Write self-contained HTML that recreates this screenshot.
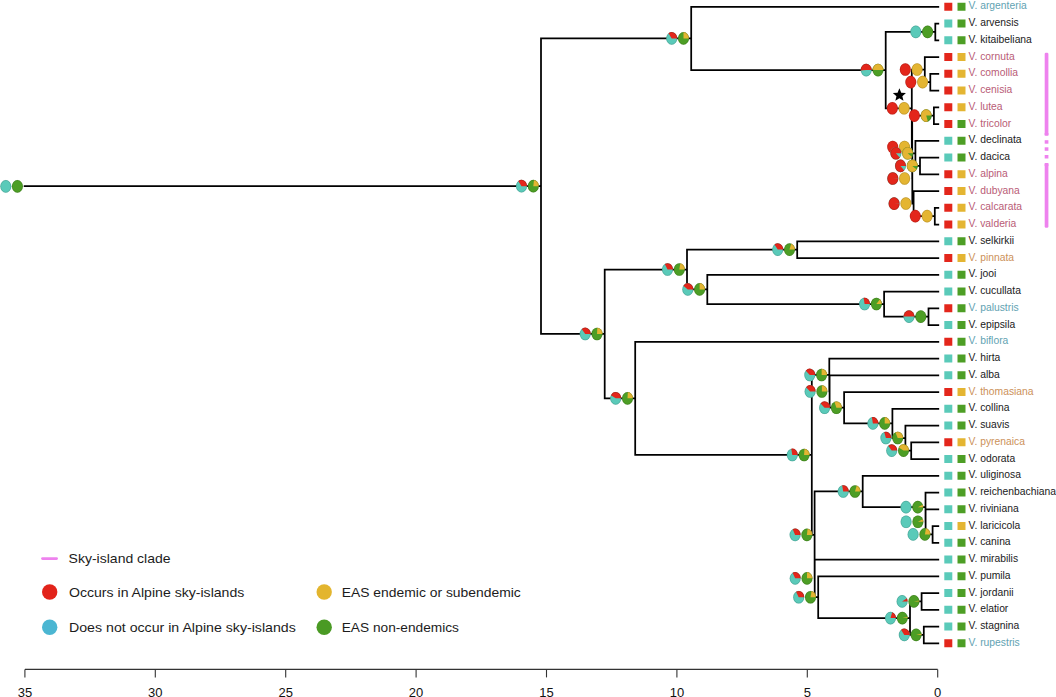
<!DOCTYPE html>
<html><head><meta charset="utf-8"><style>
html,body{margin:0;padding:0;background:#fff;}
body{width:1056px;height:697px;overflow:hidden;}
svg{display:block;}
text{font-family:"Liberation Sans",sans-serif;}
</style></head><body>
<svg width="1056" height="697" viewBox="0 0 1056 697">
<path d="M24.60 186.17L541.00 186.17M541.00 38.42L541.00 333.93M541.00 38.42L691.20 38.42M541.00 333.93L604.70 333.93M691.20 6.75L691.20 70.09M691.20 6.75L938.30 6.75M691.20 70.09L885.70 70.09M885.70 31.88L885.70 108.30M885.70 31.88L935.30 31.88M885.70 108.30L911.80 108.30M935.30 23.50L935.30 40.25M935.30 23.50L938.30 23.50M935.30 40.25L938.30 40.25M911.80 69.56L911.80 147.03M911.80 69.56L924.80 69.56M911.80 147.03L912.20 147.03M924.80 57.00L924.80 82.12M924.80 57.00L938.30 57.00M924.80 82.12L930.30 82.12M930.30 73.75L930.30 90.50M930.30 73.75L938.30 73.75M930.30 90.50L938.30 90.50M912.20 115.62L912.20 178.44M912.20 115.62L933.90 115.62M912.20 178.44L912.30 178.44M933.90 107.25L933.90 124.00M933.90 107.25L938.30 107.25M933.90 124.00L938.30 124.00M912.30 153.31L912.30 203.56M912.30 153.31L915.40 153.31M912.30 203.56L913.60 203.56M915.40 140.75L915.40 165.88M915.40 140.75L938.30 140.75M915.40 165.88L920.00 165.88M920.00 157.50L920.00 174.25M920.00 157.50L938.30 157.50M920.00 174.25L938.30 174.25M913.60 191.00L913.60 216.12M913.60 191.00L938.30 191.00M913.60 216.12L934.80 216.12M934.80 207.75L934.80 224.50M934.80 207.75L938.30 207.75M934.80 224.50L938.30 224.50M604.70 269.52L604.70 398.35M604.70 269.52L687.00 269.52M604.70 398.35L635.20 398.35M687.00 249.62L687.00 289.41M687.00 249.62L797.20 249.62M687.00 289.41L707.30 289.41M797.20 241.25L797.20 258.00M797.20 241.25L938.30 241.25M797.20 258.00L938.30 258.00M707.30 274.75L707.30 304.06M707.30 274.75L938.30 274.75M707.30 304.06L884.10 304.06M884.10 291.50L884.10 316.62M884.10 291.50L938.30 291.50M884.10 316.62L928.50 316.62M928.50 308.25L928.50 325.00M928.50 308.25L938.30 308.25M928.50 325.00L938.30 325.00M635.20 341.75L635.20 454.94M635.20 341.75L938.30 341.75M635.20 454.94L811.80 454.94M811.80 374.99L811.80 534.90M811.80 374.99L829.30 374.99M811.80 534.90L814.60 534.90M829.30 358.50L829.30 391.48M829.30 358.50L938.30 358.50M829.30 391.48L829.60 391.48M829.60 375.25L829.60 407.70M829.60 375.25L938.30 375.25M829.60 407.70L844.10 407.70M844.10 392.00L844.10 423.41M844.10 392.00L938.30 392.00M844.10 423.41L892.40 423.41M892.40 408.75L892.40 438.06M892.40 408.75L938.30 408.75M892.40 438.06L905.40 438.06M905.40 425.50L905.40 450.62M905.40 425.50L938.30 425.50M905.40 450.62L911.20 450.62M911.20 442.25L911.20 459.00M911.20 442.25L938.30 442.25M911.20 459.00L938.30 459.00M814.60 491.45L814.60 578.34M814.60 491.45L862.70 491.45M814.60 578.34L814.70 578.34M862.70 475.75L862.70 507.16M862.70 475.75L938.30 475.75M862.70 507.16L925.50 507.16M925.50 492.50L925.50 521.81M925.50 492.50L938.30 492.50M925.50 521.81L925.60 521.81M925.60 509.25L925.60 534.38M925.60 509.25L938.30 509.25M925.60 534.38L932.60 534.38M932.60 526.00L932.60 542.75M932.60 526.00L938.30 526.00M932.60 542.75L938.30 542.75M814.70 559.50L814.70 597.19M814.70 559.50L938.30 559.50M814.70 597.19L818.20 597.19M818.20 576.25L818.20 618.12M818.20 576.25L938.30 576.25M818.20 618.12L910.00 618.12M910.00 601.38L910.00 634.88M910.00 601.38L921.60 601.38M910.00 634.88L923.80 634.88M921.60 593.00L921.60 609.75M921.60 593.00L938.30 593.00M921.60 609.75L938.30 609.75M923.80 626.50L923.80 643.25M923.80 626.50L938.30 626.50M923.80 643.25L938.30 643.25" stroke="#000" stroke-width="1.75" fill="none" stroke-linecap="square"/>
<ellipse cx="5.80" cy="186.37" rx="5.50" ry="6.30" fill="#5acab9"/><ellipse cx="5.80" cy="186.37" rx="5.20" ry="6.00" fill="none" stroke="#000" stroke-opacity="0.22" stroke-width="0.6"/>
<ellipse cx="17.40" cy="186.37" rx="5.50" ry="6.30" fill="#4d9e25"/><ellipse cx="17.40" cy="186.37" rx="5.20" ry="6.00" fill="none" stroke="#000" stroke-opacity="0.22" stroke-width="0.6"/>
<ellipse cx="521.50" cy="186.17" rx="5.50" ry="6.30" fill="#5acab9"/><path d="M521.50 186.17L527.00 186.17A5.50 6.30 0 0 0 518.27 181.08Z" fill="#e3261b"/><ellipse cx="521.50" cy="186.17" rx="5.20" ry="6.00" fill="none" stroke="#000" stroke-opacity="0.22" stroke-width="0.6"/>
<ellipse cx="533.30" cy="186.17" rx="5.50" ry="6.30" fill="#4d9e25"/><path d="M533.30 186.17L538.80 186.17A5.50 6.30 0 0 0 533.99 179.92Z" fill="#e4b532"/><ellipse cx="533.30" cy="186.17" rx="5.20" ry="6.00" fill="none" stroke="#000" stroke-opacity="0.22" stroke-width="0.6"/>
<ellipse cx="671.70" cy="38.42" rx="5.50" ry="6.30" fill="#5acab9"/><path d="M671.70 38.42L677.20 38.42A5.50 6.30 0 0 0 668.47 33.32Z" fill="#e3261b"/><ellipse cx="671.70" cy="38.42" rx="5.20" ry="6.00" fill="none" stroke="#000" stroke-opacity="0.22" stroke-width="0.6"/>
<ellipse cx="683.50" cy="38.42" rx="5.50" ry="6.30" fill="#4d9e25"/><path d="M683.50 38.42L689.00 38.42A5.50 6.30 0 0 0 683.50 32.12Z" fill="#e4b532"/><ellipse cx="683.50" cy="38.42" rx="5.20" ry="6.00" fill="none" stroke="#000" stroke-opacity="0.22" stroke-width="0.6"/>
<ellipse cx="866.20" cy="70.09" rx="5.50" ry="6.30" fill="#5acab9"/><path d="M866.20 70.09L871.70 70.09A5.50 6.30 0 1 0 860.71 70.48Z" fill="#e3261b"/><ellipse cx="866.20" cy="70.09" rx="5.20" ry="6.00" fill="none" stroke="#000" stroke-opacity="0.22" stroke-width="0.6"/>
<ellipse cx="878.00" cy="70.09" rx="5.50" ry="6.30" fill="#4d9e25"/><path d="M878.00 70.09L883.50 70.09A5.50 6.30 0 0 0 872.50 70.09Z" fill="#e4b532"/><ellipse cx="878.00" cy="70.09" rx="5.20" ry="6.00" fill="none" stroke="#000" stroke-opacity="0.22" stroke-width="0.6"/>
<ellipse cx="915.80" cy="31.88" rx="5.50" ry="6.30" fill="#5acab9"/><ellipse cx="915.80" cy="31.88" rx="5.20" ry="6.00" fill="none" stroke="#000" stroke-opacity="0.22" stroke-width="0.6"/>
<ellipse cx="927.60" cy="31.88" rx="5.50" ry="6.30" fill="#4d9e25"/><ellipse cx="927.60" cy="31.88" rx="5.20" ry="6.00" fill="none" stroke="#000" stroke-opacity="0.22" stroke-width="0.6"/>
<ellipse cx="892.30" cy="108.30" rx="5.50" ry="6.30" fill="#e3261b"/><ellipse cx="892.30" cy="108.30" rx="5.20" ry="6.00" fill="none" stroke="#000" stroke-opacity="0.22" stroke-width="0.6"/>
<ellipse cx="904.10" cy="108.30" rx="5.50" ry="6.30" fill="#e4b532"/><ellipse cx="904.10" cy="108.30" rx="5.20" ry="6.00" fill="none" stroke="#000" stroke-opacity="0.22" stroke-width="0.6"/>
<ellipse cx="905.30" cy="69.56" rx="5.50" ry="6.30" fill="#e3261b"/><ellipse cx="905.30" cy="69.56" rx="5.20" ry="6.00" fill="none" stroke="#000" stroke-opacity="0.22" stroke-width="0.6"/>
<ellipse cx="917.10" cy="69.56" rx="5.50" ry="6.30" fill="#e4b532"/><ellipse cx="917.10" cy="69.56" rx="5.20" ry="6.00" fill="none" stroke="#000" stroke-opacity="0.22" stroke-width="0.6"/>
<ellipse cx="910.80" cy="82.12" rx="5.50" ry="6.30" fill="#e3261b"/><ellipse cx="910.80" cy="82.12" rx="5.20" ry="6.00" fill="none" stroke="#000" stroke-opacity="0.22" stroke-width="0.6"/>
<ellipse cx="922.60" cy="82.12" rx="5.50" ry="6.30" fill="#e4b532"/><ellipse cx="922.60" cy="82.12" rx="5.20" ry="6.00" fill="none" stroke="#000" stroke-opacity="0.22" stroke-width="0.6"/>
<ellipse cx="892.70" cy="147.03" rx="5.50" ry="6.30" fill="#e3261b"/><ellipse cx="892.70" cy="147.03" rx="5.20" ry="6.00" fill="none" stroke="#000" stroke-opacity="0.22" stroke-width="0.6"/>
<ellipse cx="904.50" cy="147.03" rx="5.50" ry="6.30" fill="#e4b532"/><ellipse cx="904.50" cy="147.03" rx="5.20" ry="6.00" fill="none" stroke="#000" stroke-opacity="0.22" stroke-width="0.6"/>
<ellipse cx="914.40" cy="115.62" rx="5.50" ry="6.30" fill="#e3261b"/><ellipse cx="914.40" cy="115.62" rx="5.20" ry="6.00" fill="none" stroke="#000" stroke-opacity="0.22" stroke-width="0.6"/>
<ellipse cx="926.20" cy="115.62" rx="5.50" ry="6.30" fill="#4d9e25"/><path d="M926.20 115.62L931.70 115.62A5.50 6.30 0 1 0 927.90 121.62Z" fill="#e4b532"/><ellipse cx="926.20" cy="115.62" rx="5.20" ry="6.00" fill="none" stroke="#000" stroke-opacity="0.22" stroke-width="0.6"/>
<ellipse cx="892.80" cy="178.44" rx="5.50" ry="6.30" fill="#5acab9"/><path d="M892.80 178.44L898.30 178.44A5.50 6.30 0 1 0 898.30 178.64Z" fill="#e3261b"/><ellipse cx="892.80" cy="178.44" rx="5.20" ry="6.00" fill="none" stroke="#000" stroke-opacity="0.22" stroke-width="0.6"/>
<ellipse cx="904.60" cy="178.44" rx="5.50" ry="6.30" fill="#e4b532"/><ellipse cx="904.60" cy="178.44" rx="5.20" ry="6.00" fill="none" stroke="#000" stroke-opacity="0.22" stroke-width="0.6"/>
<ellipse cx="895.90" cy="153.31" rx="5.50" ry="6.30" fill="#5acab9"/><path d="M895.90 153.31L901.40 153.31A5.50 6.30 0 1 0 899.91 157.63Z" fill="#e3261b"/><ellipse cx="895.90" cy="153.31" rx="5.20" ry="6.00" fill="none" stroke="#000" stroke-opacity="0.22" stroke-width="0.6"/>
<ellipse cx="907.70" cy="153.31" rx="5.50" ry="6.30" fill="#4d9e25"/><path d="M907.70 153.31L913.20 153.31A5.50 6.30 0 1 0 912.15 157.02Z" fill="#e4b532"/><ellipse cx="907.70" cy="153.31" rx="5.20" ry="6.00" fill="none" stroke="#000" stroke-opacity="0.22" stroke-width="0.6"/>
<ellipse cx="900.50" cy="165.88" rx="5.50" ry="6.30" fill="#5acab9"/><path d="M900.50 165.88L906.00 165.88A5.50 6.30 0 1 0 904.27 170.47Z" fill="#e3261b"/><ellipse cx="900.50" cy="165.88" rx="5.20" ry="6.00" fill="none" stroke="#000" stroke-opacity="0.22" stroke-width="0.6"/>
<ellipse cx="912.30" cy="165.88" rx="5.50" ry="6.30" fill="#4d9e25"/><path d="M912.30 165.88L917.80 165.88A5.50 6.30 0 1 0 916.75 169.58Z" fill="#e4b532"/><ellipse cx="912.30" cy="165.88" rx="5.20" ry="6.00" fill="none" stroke="#000" stroke-opacity="0.22" stroke-width="0.6"/>
<ellipse cx="894.10" cy="203.56" rx="5.50" ry="6.30" fill="#5acab9"/><path d="M894.10 203.56L899.60 203.56A5.50 6.30 0 1 0 899.60 203.76Z" fill="#e3261b"/><ellipse cx="894.10" cy="203.56" rx="5.20" ry="6.00" fill="none" stroke="#000" stroke-opacity="0.22" stroke-width="0.6"/>
<ellipse cx="905.90" cy="203.56" rx="5.50" ry="6.30" fill="#e4b532"/><ellipse cx="905.90" cy="203.56" rx="5.20" ry="6.00" fill="none" stroke="#000" stroke-opacity="0.22" stroke-width="0.6"/>
<ellipse cx="915.30" cy="216.12" rx="5.50" ry="6.30" fill="#e3261b"/><ellipse cx="915.30" cy="216.12" rx="5.20" ry="6.00" fill="none" stroke="#000" stroke-opacity="0.22" stroke-width="0.6"/>
<ellipse cx="927.10" cy="216.12" rx="5.50" ry="6.30" fill="#e4b532"/><ellipse cx="927.10" cy="216.12" rx="5.20" ry="6.00" fill="none" stroke="#000" stroke-opacity="0.22" stroke-width="0.6"/>
<ellipse cx="585.20" cy="333.93" rx="5.50" ry="6.30" fill="#5acab9"/><path d="M585.20 333.93L590.70 333.93A5.50 6.30 0 0 0 581.69 329.08Z" fill="#e3261b"/><ellipse cx="585.20" cy="333.93" rx="5.20" ry="6.00" fill="none" stroke="#000" stroke-opacity="0.22" stroke-width="0.6"/>
<ellipse cx="597.00" cy="333.93" rx="5.50" ry="6.30" fill="#4d9e25"/><path d="M597.00 333.93L602.50 333.93A5.50 6.30 0 0 0 597.35 327.64Z" fill="#e4b532"/><ellipse cx="597.00" cy="333.93" rx="5.20" ry="6.00" fill="none" stroke="#000" stroke-opacity="0.22" stroke-width="0.6"/>
<ellipse cx="667.50" cy="269.52" rx="5.50" ry="6.30" fill="#5acab9"/><path d="M667.50 269.52L673.00 269.52A5.50 6.30 0 0 0 664.85 263.99Z" fill="#e3261b"/><ellipse cx="667.50" cy="269.52" rx="5.20" ry="6.00" fill="none" stroke="#000" stroke-opacity="0.22" stroke-width="0.6"/>
<ellipse cx="679.30" cy="269.52" rx="5.50" ry="6.30" fill="#4d9e25"/><path d="M679.30 269.52L684.80 269.52A5.50 6.30 0 0 0 680.33 263.33Z" fill="#e4b532"/><ellipse cx="679.30" cy="269.52" rx="5.20" ry="6.00" fill="none" stroke="#000" stroke-opacity="0.22" stroke-width="0.6"/>
<ellipse cx="777.70" cy="249.62" rx="5.50" ry="6.30" fill="#5acab9"/><path d="M777.70 249.62L783.20 249.62A5.50 6.30 0 0 0 774.47 244.53Z" fill="#e3261b"/><ellipse cx="777.70" cy="249.62" rx="5.20" ry="6.00" fill="none" stroke="#000" stroke-opacity="0.22" stroke-width="0.6"/>
<ellipse cx="789.50" cy="249.62" rx="5.50" ry="6.30" fill="#4d9e25"/><path d="M789.50 249.62L795.00 249.62A5.50 6.30 0 0 0 791.20 243.63Z" fill="#e4b532"/><ellipse cx="789.50" cy="249.62" rx="5.20" ry="6.00" fill="none" stroke="#000" stroke-opacity="0.22" stroke-width="0.6"/>
<ellipse cx="687.80" cy="289.41" rx="5.50" ry="6.30" fill="#5acab9"/><path d="M687.80 289.41L693.30 289.41A5.50 6.30 0 0 0 683.35 285.70Z" fill="#e3261b"/><ellipse cx="687.80" cy="289.41" rx="5.20" ry="6.00" fill="none" stroke="#000" stroke-opacity="0.22" stroke-width="0.6"/>
<ellipse cx="699.60" cy="289.41" rx="5.50" ry="6.30" fill="#4d9e25"/><path d="M699.60 289.41L705.10 289.41A5.50 6.30 0 0 0 699.60 283.11Z" fill="#e4b532"/><ellipse cx="699.60" cy="289.41" rx="5.20" ry="6.00" fill="none" stroke="#000" stroke-opacity="0.22" stroke-width="0.6"/>
<ellipse cx="864.60" cy="304.06" rx="5.50" ry="6.30" fill="#5acab9"/><path d="M864.60 304.06L870.10 304.06A5.50 6.30 0 0 0 863.57 297.87Z" fill="#e3261b"/><ellipse cx="864.60" cy="304.06" rx="5.20" ry="6.00" fill="none" stroke="#000" stroke-opacity="0.22" stroke-width="0.6"/>
<ellipse cx="876.40" cy="304.06" rx="5.50" ry="6.30" fill="#4d9e25"/><path d="M876.40 304.06L881.90 304.06A5.50 6.30 0 0 0 879.91 299.21Z" fill="#e4b532"/><ellipse cx="876.40" cy="304.06" rx="5.20" ry="6.00" fill="none" stroke="#000" stroke-opacity="0.22" stroke-width="0.6"/>
<ellipse cx="909.00" cy="316.62" rx="5.50" ry="6.30" fill="#5acab9"/><path d="M909.00 316.62L914.50 316.62A5.50 6.30 0 0 0 903.50 316.62Z" fill="#e3261b"/><ellipse cx="909.00" cy="316.62" rx="5.20" ry="6.00" fill="none" stroke="#000" stroke-opacity="0.22" stroke-width="0.6"/>
<ellipse cx="920.80" cy="316.62" rx="5.50" ry="6.30" fill="#4d9e25"/><ellipse cx="920.80" cy="316.62" rx="5.20" ry="6.00" fill="none" stroke="#000" stroke-opacity="0.22" stroke-width="0.6"/>
<ellipse cx="615.70" cy="398.35" rx="5.50" ry="6.30" fill="#5acab9"/><path d="M615.70 398.35L621.20 398.35A5.50 6.30 0 0 0 610.88 395.31Z" fill="#e3261b"/><ellipse cx="615.70" cy="398.35" rx="5.20" ry="6.00" fill="none" stroke="#000" stroke-opacity="0.22" stroke-width="0.6"/>
<ellipse cx="627.50" cy="398.35" rx="5.50" ry="6.30" fill="#4d9e25"/><path d="M627.50 398.35L633.00 398.35A5.50 6.30 0 0 0 627.85 392.06Z" fill="#e4b532"/><ellipse cx="627.50" cy="398.35" rx="5.20" ry="6.00" fill="none" stroke="#000" stroke-opacity="0.22" stroke-width="0.6"/>
<ellipse cx="792.30" cy="454.94" rx="5.50" ry="6.30" fill="#5acab9"/><path d="M792.30 454.94L797.80 454.94A5.50 6.30 0 0 0 791.27 448.75Z" fill="#e3261b"/><ellipse cx="792.30" cy="454.94" rx="5.20" ry="6.00" fill="none" stroke="#000" stroke-opacity="0.22" stroke-width="0.6"/>
<ellipse cx="804.10" cy="454.94" rx="5.50" ry="6.30" fill="#4d9e25"/><path d="M804.10 454.94L809.60 454.94A5.50 6.30 0 0 0 804.45 448.66Z" fill="#e4b532"/><ellipse cx="804.10" cy="454.94" rx="5.20" ry="6.00" fill="none" stroke="#000" stroke-opacity="0.22" stroke-width="0.6"/>
<ellipse cx="809.80" cy="374.99" rx="5.50" ry="6.30" fill="#5acab9"/><path d="M809.80 374.99L815.30 374.99A5.50 6.30 0 0 0 805.79 370.68Z" fill="#e3261b"/><ellipse cx="809.80" cy="374.99" rx="5.20" ry="6.00" fill="none" stroke="#000" stroke-opacity="0.22" stroke-width="0.6"/>
<ellipse cx="821.60" cy="374.99" rx="5.50" ry="6.30" fill="#4d9e25"/><path d="M821.60 374.99L827.10 374.99A5.50 6.30 0 0 0 821.60 368.69Z" fill="#e4b532"/><ellipse cx="821.60" cy="374.99" rx="5.20" ry="6.00" fill="none" stroke="#000" stroke-opacity="0.22" stroke-width="0.6"/>
<ellipse cx="810.10" cy="391.48" rx="5.50" ry="6.30" fill="#5acab9"/><path d="M810.10 391.48L815.60 391.48A5.50 6.30 0 0 0 806.09 387.16Z" fill="#e3261b"/><ellipse cx="810.10" cy="391.48" rx="5.20" ry="6.00" fill="none" stroke="#000" stroke-opacity="0.22" stroke-width="0.6"/>
<ellipse cx="821.90" cy="391.48" rx="5.50" ry="6.30" fill="#4d9e25"/><path d="M821.90 391.48L827.40 391.48A5.50 6.30 0 0 0 821.90 385.18Z" fill="#e4b532"/><ellipse cx="821.90" cy="391.48" rx="5.20" ry="6.00" fill="none" stroke="#000" stroke-opacity="0.22" stroke-width="0.6"/>
<ellipse cx="824.60" cy="407.70" rx="5.50" ry="6.30" fill="#5acab9"/><path d="M824.60 407.70L830.10 407.70A5.50 6.30 0 0 0 820.59 403.39Z" fill="#e3261b"/><ellipse cx="824.60" cy="407.70" rx="5.20" ry="6.00" fill="none" stroke="#000" stroke-opacity="0.22" stroke-width="0.6"/>
<ellipse cx="836.40" cy="407.70" rx="5.50" ry="6.30" fill="#4d9e25"/><path d="M836.40 407.70L841.90 407.70A5.50 6.30 0 0 0 834.38 401.85Z" fill="#e4b532"/><ellipse cx="836.40" cy="407.70" rx="5.20" ry="6.00" fill="none" stroke="#000" stroke-opacity="0.22" stroke-width="0.6"/>
<ellipse cx="872.90" cy="423.41" rx="5.50" ry="6.30" fill="#5acab9"/><path d="M872.90 423.41L878.40 423.41A5.50 6.30 0 0 0 871.87 417.22Z" fill="#e3261b"/><ellipse cx="872.90" cy="423.41" rx="5.20" ry="6.00" fill="none" stroke="#000" stroke-opacity="0.22" stroke-width="0.6"/>
<ellipse cx="884.70" cy="423.41" rx="5.50" ry="6.30" fill="#4d9e25"/><path d="M884.70 423.41L890.20 423.41A5.50 6.30 0 0 0 884.70 417.11Z" fill="#e4b532"/><ellipse cx="884.70" cy="423.41" rx="5.20" ry="6.00" fill="none" stroke="#000" stroke-opacity="0.22" stroke-width="0.6"/>
<ellipse cx="885.90" cy="438.06" rx="5.50" ry="6.30" fill="#5acab9"/><path d="M885.90 438.06L891.40 438.06A5.50 6.30 0 0 0 884.20 432.07Z" fill="#e3261b"/><ellipse cx="885.90" cy="438.06" rx="5.20" ry="6.00" fill="none" stroke="#000" stroke-opacity="0.22" stroke-width="0.6"/>
<ellipse cx="897.70" cy="438.06" rx="5.50" ry="6.30" fill="#4d9e25"/><path d="M897.70 438.06L903.20 438.06A5.50 6.30 0 0 0 895.36 432.36Z" fill="#e4b532"/><ellipse cx="897.70" cy="438.06" rx="5.20" ry="6.00" fill="none" stroke="#000" stroke-opacity="0.22" stroke-width="0.6"/>
<ellipse cx="891.70" cy="450.62" rx="5.50" ry="6.30" fill="#5acab9"/><path d="M891.70 450.62L897.20 450.62A5.50 6.30 0 0 0 888.19 445.77Z" fill="#e3261b"/><ellipse cx="891.70" cy="450.62" rx="5.20" ry="6.00" fill="none" stroke="#000" stroke-opacity="0.22" stroke-width="0.6"/>
<ellipse cx="903.50" cy="450.62" rx="5.50" ry="6.30" fill="#4d9e25"/><path d="M903.50 450.62L909.00 450.62A5.50 6.30 0 0 0 898.68 447.59Z" fill="#e4b532"/><ellipse cx="903.50" cy="450.62" rx="5.20" ry="6.00" fill="none" stroke="#000" stroke-opacity="0.22" stroke-width="0.6"/>
<ellipse cx="795.10" cy="534.90" rx="5.50" ry="6.30" fill="#5acab9"/><path d="M795.10 534.90L800.60 534.90A5.50 6.30 0 0 0 792.76 529.20Z" fill="#e3261b"/><ellipse cx="795.10" cy="534.90" rx="5.20" ry="6.00" fill="none" stroke="#000" stroke-opacity="0.22" stroke-width="0.6"/>
<ellipse cx="806.90" cy="534.90" rx="5.50" ry="6.30" fill="#4d9e25"/><path d="M806.90 534.90L812.40 534.90A5.50 6.30 0 0 0 807.59 528.65Z" fill="#e4b532"/><ellipse cx="806.90" cy="534.90" rx="5.20" ry="6.00" fill="none" stroke="#000" stroke-opacity="0.22" stroke-width="0.6"/>
<ellipse cx="843.20" cy="491.45" rx="5.50" ry="6.30" fill="#5acab9"/><path d="M843.20 491.45L848.70 491.45A5.50 6.30 0 0 0 842.17 485.26Z" fill="#e3261b"/><ellipse cx="843.20" cy="491.45" rx="5.20" ry="6.00" fill="none" stroke="#000" stroke-opacity="0.22" stroke-width="0.6"/>
<ellipse cx="855.00" cy="491.45" rx="5.50" ry="6.30" fill="#4d9e25"/><path d="M855.00 491.45L860.50 491.45A5.50 6.30 0 0 0 856.70 485.46Z" fill="#e4b532"/><ellipse cx="855.00" cy="491.45" rx="5.20" ry="6.00" fill="none" stroke="#000" stroke-opacity="0.22" stroke-width="0.6"/>
<ellipse cx="906.00" cy="507.16" rx="5.50" ry="6.30" fill="#5acab9"/><ellipse cx="906.00" cy="507.16" rx="5.20" ry="6.00" fill="none" stroke="#000" stroke-opacity="0.22" stroke-width="0.6"/>
<ellipse cx="917.80" cy="507.16" rx="5.50" ry="6.30" fill="#4d9e25"/><path d="M917.80 507.16L923.30 507.16A5.50 6.30 0 0 0 922.85 504.65Z" fill="#e4b532"/><ellipse cx="917.80" cy="507.16" rx="5.20" ry="6.00" fill="none" stroke="#000" stroke-opacity="0.22" stroke-width="0.6"/>
<ellipse cx="906.10" cy="521.81" rx="5.50" ry="6.30" fill="#5acab9"/><ellipse cx="906.10" cy="521.81" rx="5.20" ry="6.00" fill="none" stroke="#000" stroke-opacity="0.22" stroke-width="0.6"/>
<ellipse cx="917.90" cy="521.81" rx="5.50" ry="6.30" fill="#4d9e25"/><path d="M917.90 521.81L923.40 521.81A5.50 6.30 0 0 0 922.95 519.31Z" fill="#e4b532"/><ellipse cx="917.90" cy="521.81" rx="5.20" ry="6.00" fill="none" stroke="#000" stroke-opacity="0.22" stroke-width="0.6"/>
<ellipse cx="913.10" cy="534.38" rx="5.50" ry="6.30" fill="#5acab9"/><ellipse cx="913.10" cy="534.38" rx="5.20" ry="6.00" fill="none" stroke="#000" stroke-opacity="0.22" stroke-width="0.6"/>
<ellipse cx="924.90" cy="534.38" rx="5.50" ry="6.30" fill="#4d9e25"/><path d="M924.90 534.38L930.40 534.38A5.50 6.30 0 0 0 925.93 528.19Z" fill="#e4b532"/><ellipse cx="924.90" cy="534.38" rx="5.20" ry="6.00" fill="none" stroke="#000" stroke-opacity="0.22" stroke-width="0.6"/>
<ellipse cx="795.20" cy="578.34" rx="5.50" ry="6.30" fill="#5acab9"/><path d="M795.20 578.34L800.70 578.34A5.50 6.30 0 0 0 792.55 572.82Z" fill="#e3261b"/><ellipse cx="795.20" cy="578.34" rx="5.20" ry="6.00" fill="none" stroke="#000" stroke-opacity="0.22" stroke-width="0.6"/>
<ellipse cx="807.00" cy="578.34" rx="5.50" ry="6.30" fill="#4d9e25"/><path d="M807.00 578.34L812.50 578.34A5.50 6.30 0 0 0 807.00 572.04Z" fill="#e4b532"/><ellipse cx="807.00" cy="578.34" rx="5.20" ry="6.00" fill="none" stroke="#000" stroke-opacity="0.22" stroke-width="0.6"/>
<ellipse cx="798.70" cy="597.19" rx="5.50" ry="6.30" fill="#5acab9"/><path d="M798.70 597.19L804.20 597.19A5.50 6.30 0 0 0 796.05 591.67Z" fill="#e3261b"/><ellipse cx="798.70" cy="597.19" rx="5.20" ry="6.00" fill="none" stroke="#000" stroke-opacity="0.22" stroke-width="0.6"/>
<ellipse cx="810.50" cy="597.19" rx="5.50" ry="6.30" fill="#4d9e25"/><path d="M810.50 597.19L816.00 597.19A5.50 6.30 0 0 0 811.53 591.00Z" fill="#e4b532"/><ellipse cx="810.50" cy="597.19" rx="5.20" ry="6.00" fill="none" stroke="#000" stroke-opacity="0.22" stroke-width="0.6"/>
<ellipse cx="890.50" cy="618.12" rx="5.50" ry="6.30" fill="#5acab9"/><path d="M890.50 618.12L896.00 618.12A5.50 6.30 0 0 0 892.20 612.13Z" fill="#e3261b"/><ellipse cx="890.50" cy="618.12" rx="5.20" ry="6.00" fill="none" stroke="#000" stroke-opacity="0.22" stroke-width="0.6"/>
<ellipse cx="902.30" cy="618.12" rx="5.50" ry="6.30" fill="#4d9e25"/><path d="M902.30 618.12L907.80 618.12A5.50 6.30 0 0 0 907.70 616.94Z" fill="#e4b532"/><ellipse cx="902.30" cy="618.12" rx="5.20" ry="6.00" fill="none" stroke="#000" stroke-opacity="0.22" stroke-width="0.6"/>
<ellipse cx="902.10" cy="601.38" rx="5.50" ry="6.30" fill="#5acab9"/><path d="M902.10 601.38L907.60 601.38A5.50 6.30 0 0 0 906.92 598.34Z" fill="#e3261b"/><ellipse cx="902.10" cy="601.38" rx="5.20" ry="6.00" fill="none" stroke="#000" stroke-opacity="0.22" stroke-width="0.6"/>
<ellipse cx="913.90" cy="601.38" rx="5.50" ry="6.30" fill="#4d9e25"/><path d="M913.90 601.38L919.40 601.38A5.50 6.30 0 0 0 919.36 600.59Z" fill="#e4b532"/><ellipse cx="913.90" cy="601.38" rx="5.20" ry="6.00" fill="none" stroke="#000" stroke-opacity="0.22" stroke-width="0.6"/>
<ellipse cx="904.30" cy="634.88" rx="5.50" ry="6.30" fill="#5acab9"/><path d="M904.30 634.88L909.80 634.88A5.50 6.30 0 0 0 901.07 629.78Z" fill="#e3261b"/><ellipse cx="904.30" cy="634.88" rx="5.20" ry="6.00" fill="none" stroke="#000" stroke-opacity="0.22" stroke-width="0.6"/>
<ellipse cx="916.10" cy="634.88" rx="5.50" ry="6.30" fill="#4d9e25"/><path d="M916.10 634.88L921.60 634.88A5.50 6.30 0 0 0 921.50 633.69Z" fill="#e4b532"/><ellipse cx="916.10" cy="634.88" rx="5.20" ry="6.00" fill="none" stroke="#000" stroke-opacity="0.22" stroke-width="0.6"/>
<polygon points="899.40,88.30 901.23,92.69 905.96,93.07 902.35,96.16 903.46,100.78 899.40,98.30 895.34,100.78 896.45,96.16 892.84,93.07 897.57,92.69" fill="#000"/>
<rect x="944.3" y="2.75" width="8.00" height="8.00" fill="#e3261b"/>
<rect x="957.5" y="2.75" width="8.00" height="8.00" fill="#4d9e25"/>
<text transform="translate(968.5 9.35) scale(1.035 1)" font-size="10" fill="#62a2b2">V. argenteria</text>
<rect x="944.3" y="19.50" width="8.00" height="8.00" fill="#5acab9"/>
<rect x="957.5" y="19.50" width="8.00" height="8.00" fill="#4d9e25"/>
<text transform="translate(968.5 26.10) scale(1.035 1)" font-size="10" fill="#1a1a1a">V. arvensis</text>
<rect x="944.3" y="36.25" width="8.00" height="8.00" fill="#5acab9"/>
<rect x="957.5" y="36.25" width="8.00" height="8.00" fill="#4d9e25"/>
<text transform="translate(968.5 42.85) scale(1.035 1)" font-size="10" fill="#1a1a1a">V. kitaibeliana</text>
<rect x="944.3" y="53.00" width="8.00" height="8.00" fill="#e3261b"/>
<rect x="957.5" y="53.00" width="8.00" height="8.00" fill="#e4b532"/>
<text transform="translate(968.5 59.60) scale(1.035 1)" font-size="10" fill="#b95c76">V. cornuta</text>
<rect x="944.3" y="69.75" width="8.00" height="8.00" fill="#e3261b"/>
<rect x="957.5" y="69.75" width="8.00" height="8.00" fill="#e4b532"/>
<text transform="translate(968.5 76.35) scale(1.035 1)" font-size="10" fill="#b95c76">V. comollia</text>
<rect x="944.3" y="86.50" width="8.00" height="8.00" fill="#e3261b"/>
<rect x="957.5" y="86.50" width="8.00" height="8.00" fill="#e4b532"/>
<text transform="translate(968.5 93.10) scale(1.035 1)" font-size="10" fill="#b95c76">V. cenisia</text>
<rect x="944.3" y="103.25" width="8.00" height="8.00" fill="#e3261b"/>
<rect x="957.5" y="103.25" width="8.00" height="8.00" fill="#e4b532"/>
<text transform="translate(968.5 109.85) scale(1.035 1)" font-size="10" fill="#b95c76">V. lutea</text>
<rect x="944.3" y="120.00" width="8.00" height="8.00" fill="#e3261b"/>
<rect x="957.5" y="120.00" width="8.00" height="8.00" fill="#4d9e25"/>
<text transform="translate(968.5 126.60) scale(1.035 1)" font-size="10" fill="#b95c76">V. tricolor</text>
<rect x="944.3" y="136.75" width="8.00" height="8.00" fill="#5acab9"/>
<rect x="957.5" y="136.75" width="8.00" height="8.00" fill="#4d9e25"/>
<text transform="translate(968.5 143.35) scale(1.035 1)" font-size="10" fill="#1a1a1a">V. declinata</text>
<rect x="944.3" y="153.50" width="8.00" height="8.00" fill="#5acab9"/>
<rect x="957.5" y="153.50" width="8.00" height="8.00" fill="#4d9e25"/>
<text transform="translate(968.5 160.10) scale(1.035 1)" font-size="10" fill="#1a1a1a">V. dacica</text>
<rect x="944.3" y="170.25" width="8.00" height="8.00" fill="#e3261b"/>
<rect x="957.5" y="170.25" width="8.00" height="8.00" fill="#e4b532"/>
<text transform="translate(968.5 176.85) scale(1.035 1)" font-size="10" fill="#b95c76">V. alpina</text>
<rect x="944.3" y="187.00" width="8.00" height="8.00" fill="#e3261b"/>
<rect x="957.5" y="187.00" width="8.00" height="8.00" fill="#e4b532"/>
<text transform="translate(968.5 193.60) scale(1.035 1)" font-size="10" fill="#b95c76">V. dubyana</text>
<rect x="944.3" y="203.75" width="8.00" height="8.00" fill="#e3261b"/>
<rect x="957.5" y="203.75" width="8.00" height="8.00" fill="#e4b532"/>
<text transform="translate(968.5 210.35) scale(1.035 1)" font-size="10" fill="#b95c76">V. calcarata</text>
<rect x="944.3" y="220.50" width="8.00" height="8.00" fill="#e3261b"/>
<rect x="957.5" y="220.50" width="8.00" height="8.00" fill="#e4b532"/>
<text transform="translate(968.5 227.10) scale(1.035 1)" font-size="10" fill="#b95c76">V. valderia</text>
<rect x="944.3" y="237.25" width="8.00" height="8.00" fill="#5acab9"/>
<rect x="957.5" y="237.25" width="8.00" height="8.00" fill="#4d9e25"/>
<text transform="translate(968.5 243.85) scale(1.035 1)" font-size="10" fill="#1a1a1a">V. selkirkii</text>
<rect x="944.3" y="254.00" width="8.00" height="8.00" fill="#e3261b"/>
<rect x="957.5" y="254.00" width="8.00" height="8.00" fill="#e4b532"/>
<text transform="translate(968.5 260.60) scale(1.035 1)" font-size="10" fill="#cc9159">V. pinnata</text>
<rect x="944.3" y="270.75" width="8.00" height="8.00" fill="#5acab9"/>
<rect x="957.5" y="270.75" width="8.00" height="8.00" fill="#4d9e25"/>
<text transform="translate(968.5 277.35) scale(1.035 1)" font-size="10" fill="#1a1a1a">V. jooi</text>
<rect x="944.3" y="287.50" width="8.00" height="8.00" fill="#5acab9"/>
<rect x="957.5" y="287.50" width="8.00" height="8.00" fill="#4d9e25"/>
<text transform="translate(968.5 294.10) scale(1.035 1)" font-size="10" fill="#1a1a1a">V. cucullata</text>
<rect x="944.3" y="304.25" width="8.00" height="8.00" fill="#e3261b"/>
<rect x="957.5" y="304.25" width="8.00" height="8.00" fill="#4d9e25"/>
<text transform="translate(968.5 310.85) scale(1.035 1)" font-size="10" fill="#62a2b2">V. palustris</text>
<rect x="944.3" y="321.00" width="8.00" height="8.00" fill="#5acab9"/>
<rect x="957.5" y="321.00" width="8.00" height="8.00" fill="#4d9e25"/>
<text transform="translate(968.5 327.60) scale(1.035 1)" font-size="10" fill="#1a1a1a">V. epipsila</text>
<rect x="944.3" y="337.75" width="8.00" height="8.00" fill="#e3261b"/>
<rect x="957.5" y="337.75" width="8.00" height="8.00" fill="#4d9e25"/>
<text transform="translate(968.5 344.35) scale(1.035 1)" font-size="10" fill="#62a2b2">V. biflora</text>
<rect x="944.3" y="354.50" width="8.00" height="8.00" fill="#5acab9"/>
<rect x="957.5" y="354.50" width="8.00" height="8.00" fill="#4d9e25"/>
<text transform="translate(968.5 361.10) scale(1.035 1)" font-size="10" fill="#1a1a1a">V. hirta</text>
<rect x="944.3" y="371.25" width="8.00" height="8.00" fill="#5acab9"/>
<rect x="957.5" y="371.25" width="8.00" height="8.00" fill="#4d9e25"/>
<text transform="translate(968.5 377.85) scale(1.035 1)" font-size="10" fill="#1a1a1a">V. alba</text>
<rect x="944.3" y="388.00" width="8.00" height="8.00" fill="#e3261b"/>
<rect x="957.5" y="388.00" width="8.00" height="8.00" fill="#e4b532"/>
<text transform="translate(968.5 394.60) scale(1.035 1)" font-size="10" fill="#cc9159">V. thomasiana</text>
<rect x="944.3" y="404.75" width="8.00" height="8.00" fill="#5acab9"/>
<rect x="957.5" y="404.75" width="8.00" height="8.00" fill="#4d9e25"/>
<text transform="translate(968.5 411.35) scale(1.035 1)" font-size="10" fill="#1a1a1a">V. collina</text>
<rect x="944.3" y="421.50" width="8.00" height="8.00" fill="#5acab9"/>
<rect x="957.5" y="421.50" width="8.00" height="8.00" fill="#4d9e25"/>
<text transform="translate(968.5 428.10) scale(1.035 1)" font-size="10" fill="#1a1a1a">V. suavis</text>
<rect x="944.3" y="438.25" width="8.00" height="8.00" fill="#e3261b"/>
<rect x="957.5" y="438.25" width="8.00" height="8.00" fill="#e4b532"/>
<text transform="translate(968.5 444.85) scale(1.035 1)" font-size="10" fill="#cc9159">V. pyrenaica</text>
<rect x="944.3" y="455.00" width="8.00" height="8.00" fill="#5acab9"/>
<rect x="957.5" y="455.00" width="8.00" height="8.00" fill="#4d9e25"/>
<text transform="translate(968.5 461.60) scale(1.035 1)" font-size="10" fill="#1a1a1a">V. odorata</text>
<rect x="944.3" y="471.75" width="8.00" height="8.00" fill="#5acab9"/>
<rect x="957.5" y="471.75" width="8.00" height="8.00" fill="#4d9e25"/>
<text transform="translate(968.5 478.35) scale(1.035 1)" font-size="10" fill="#1a1a1a">V. uliginosa</text>
<rect x="944.3" y="488.50" width="8.00" height="8.00" fill="#5acab9"/>
<rect x="957.5" y="488.50" width="8.00" height="8.00" fill="#4d9e25"/>
<text transform="translate(968.5 495.10) scale(1.035 1)" font-size="10" fill="#1a1a1a">V. reichenbachiana</text>
<rect x="944.3" y="505.25" width="8.00" height="8.00" fill="#5acab9"/>
<rect x="957.5" y="505.25" width="8.00" height="8.00" fill="#4d9e25"/>
<text transform="translate(968.5 511.85) scale(1.035 1)" font-size="10" fill="#1a1a1a">V. riviniana</text>
<rect x="944.3" y="522.00" width="8.00" height="8.00" fill="#5acab9"/>
<rect x="957.5" y="522.00" width="8.00" height="8.00" fill="#e4b532"/>
<text transform="translate(968.5 528.60) scale(1.035 1)" font-size="10" fill="#1a1a1a">V. laricicola</text>
<rect x="944.3" y="538.75" width="8.00" height="8.00" fill="#5acab9"/>
<rect x="957.5" y="538.75" width="8.00" height="8.00" fill="#4d9e25"/>
<text transform="translate(968.5 545.35) scale(1.035 1)" font-size="10" fill="#1a1a1a">V. canina</text>
<rect x="944.3" y="555.50" width="8.00" height="8.00" fill="#5acab9"/>
<rect x="957.5" y="555.50" width="8.00" height="8.00" fill="#4d9e25"/>
<text transform="translate(968.5 562.10) scale(1.035 1)" font-size="10" fill="#1a1a1a">V. mirabilis</text>
<rect x="944.3" y="572.25" width="8.00" height="8.00" fill="#5acab9"/>
<rect x="957.5" y="572.25" width="8.00" height="8.00" fill="#4d9e25"/>
<text transform="translate(968.5 578.85) scale(1.035 1)" font-size="10" fill="#1a1a1a">V. pumila</text>
<rect x="944.3" y="589.00" width="8.00" height="8.00" fill="#5acab9"/>
<rect x="957.5" y="589.00" width="8.00" height="8.00" fill="#4d9e25"/>
<text transform="translate(968.5 595.60) scale(1.035 1)" font-size="10" fill="#1a1a1a">V. jordanii</text>
<rect x="944.3" y="605.75" width="8.00" height="8.00" fill="#5acab9"/>
<rect x="957.5" y="605.75" width="8.00" height="8.00" fill="#4d9e25"/>
<text transform="translate(968.5 612.35) scale(1.035 1)" font-size="10" fill="#1a1a1a">V. elatior</text>
<rect x="944.3" y="622.50" width="8.00" height="8.00" fill="#5acab9"/>
<rect x="957.5" y="622.50" width="8.00" height="8.00" fill="#4d9e25"/>
<text transform="translate(968.5 629.10) scale(1.035 1)" font-size="10" fill="#1a1a1a">V. stagnina</text>
<rect x="944.3" y="639.25" width="8.00" height="8.00" fill="#e3261b"/>
<rect x="957.5" y="639.25" width="8.00" height="8.00" fill="#4d9e25"/>
<text transform="translate(968.5 645.85) scale(1.035 1)" font-size="10" fill="#62a2b2">V. rupestris</text>
<rect x="1044.7" y="52.8" width="3.7" height="82.8" rx="1.3" fill="#ee82ee"/>
<rect x="1044.7" y="133" width="3.7" height="2.6" fill="#ee82ee"/>
<rect x="1044.7" y="163.1" width="3.7" height="64.7" rx="1.3" fill="#ee82ee"/>
<rect x="1044.7" y="163.1" width="3.7" height="3" fill="#ee82ee"/>
<rect x="1044.7" y="140.20" width="3.7" height="3.50" fill="#ee82ee"/>
<rect x="1044.7" y="147.30" width="3.7" height="3.50" fill="#ee82ee"/>
<rect x="1044.7" y="155.00" width="3.7" height="3.50" fill="#ee82ee"/>
<path d="M24.90 669.4H937.70" stroke="#333" stroke-width="1.1"/>
<path d="M937.70 669.4V677.4" stroke="#333" stroke-width="1.1"/>
<text x="937.70" y="697" font-size="13" fill="#111" text-anchor="middle">0</text>
<path d="M807.30 669.4V677.4" stroke="#333" stroke-width="1.1"/>
<text x="807.30" y="697" font-size="13" fill="#111" text-anchor="middle">5</text>
<path d="M676.90 669.4V677.4" stroke="#333" stroke-width="1.1"/>
<text x="676.90" y="697" font-size="13" fill="#111" text-anchor="middle">10</text>
<path d="M546.50 669.4V677.4" stroke="#333" stroke-width="1.1"/>
<text x="546.50" y="697" font-size="13" fill="#111" text-anchor="middle">15</text>
<path d="M416.10 669.4V677.4" stroke="#333" stroke-width="1.1"/>
<text x="416.10" y="697" font-size="13" fill="#111" text-anchor="middle">20</text>
<path d="M285.70 669.4V677.4" stroke="#333" stroke-width="1.1"/>
<text x="285.70" y="697" font-size="13" fill="#111" text-anchor="middle">25</text>
<path d="M155.30 669.4V677.4" stroke="#333" stroke-width="1.1"/>
<text x="155.30" y="697" font-size="13" fill="#111" text-anchor="middle">30</text>
<path d="M24.90 669.4V677.4" stroke="#333" stroke-width="1.1"/>
<text x="24.90" y="697" font-size="13" fill="#111" text-anchor="middle">35</text>
<path d="M42.5 558.6H56.6" stroke="#ee82ee" stroke-width="2.8" stroke-linecap="round"/>
<circle cx="49.7" cy="592.0" r="7.7" fill="#e2231a"/>
<circle cx="49.7" cy="627.2" r="7.7" fill="#4bb6d2"/>
<circle cx="324.2" cy="592.0" r="7.7" fill="#e3b52e"/>
<circle cx="324.2" cy="627.2" r="7.7" fill="#4a9a24"/>
<text x="68.6" y="563.0" font-size="13.6" fill="#1c1c1c" lengthAdjust="spacingAndGlyphs" textLength="102">Sky-island clade</text>
<text x="69.0" y="596.8" font-size="13.6" fill="#1c1c1c" lengthAdjust="spacingAndGlyphs" textLength="175.3">Occurs in Alpine sky-islands</text>
<text x="69.0" y="632.3" font-size="13.6" fill="#1c1c1c" lengthAdjust="spacingAndGlyphs" textLength="226.8">Does not occur in Alpine sky-islands</text>
<text x="341.7" y="596.8" font-size="13.6" fill="#1c1c1c" lengthAdjust="spacingAndGlyphs" textLength="179.1">EAS endemic or subendemic</text>
<text x="341.7" y="632.3" font-size="13.6" fill="#1c1c1c" lengthAdjust="spacingAndGlyphs" textLength="117.3">EAS non-endemics</text>
</svg></body></html>
